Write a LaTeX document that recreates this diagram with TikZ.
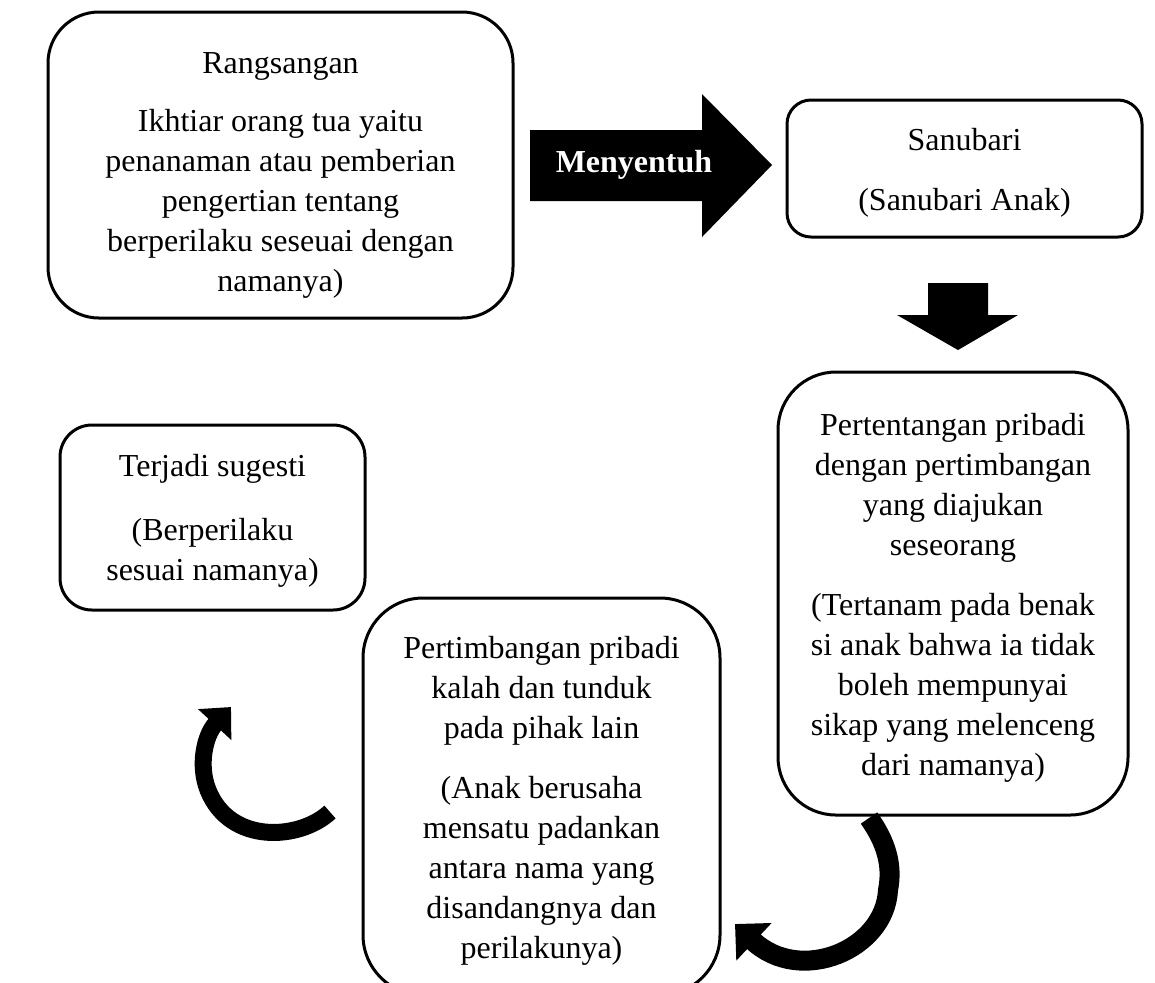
\documentclass[tikz,border=0pt]{standalone}
\usepackage{fontspec}
\setmainfont{Liberation Serif}
\usepackage{tikz}
\usetikzlibrary{arrows.meta, positioning}
\tikzset{
	boxnode/.style={
			draw=black,
			line width=1.5pt,
			rounded corners=#1,
			align=center,
			inner sep=0pt,
			font=\fontsize{16pt}{20pt}\selectfont
		},
	blockarrow/.style={
			fill=black,
			draw=none
		},
	arrowtext/.style={
			text=white,
			inner sep=0pt,
			font=\fontsize{16pt}{20pt}\selectfont\bfseries
		},
	curvedarrow/.style={
			draw=black,
			line width=#1,
			line cap=butt
		}
}

\begin{document}
\begin{tikzpicture}[x=0.5pt, y=-0.5pt]
\useasboundingbox (0,0) rectangle (1155,982);
\clip (0,0) rectangle (1155,982);

\node[boxnode=25.5pt, minimum width=232.5pt, minimum height=153pt] (n1) at (280.5,165) {\rule{0pt}{21pt}Rangsangan\\[9pt]
Ikhtiar orang tua yaitu\\ penanaman atau pemberian\\ pengertian tentang\\ berperilaku seseuai dengan\\ namanya)};
\node[boxnode=12pt, minimum width=177.5pt, minimum height=68.5pt] (n2) at (964.5,168.5) {\rule{0pt}{15pt}Sanubari\\[10pt] (Sanubari Anak)};
\node[boxnode=29pt, minimum width=175pt, minimum height=221.5pt] (n3) at (953,593.5) {\rule{0pt}{15pt}Pertentangan pribadi\\ dengan pertimbangan\\ yang diajukan\\ seseorang\\[10pt]
(Tertanam pada benak\\ si anak bahwa ia tidak\\ boleh mempunyai\\ sikap yang melenceng\\ dari namanya)};
\node[boxnode=30pt, minimum width=178.5pt, minimum height=198.5pt] (n4) at (541.5,796.5) {\rule{0pt}{15pt}Pertimbangan pribadi\\ kalah dan tunduk\\ pada pihak lain\\[10pt]
(Anak berusaha\\ mensatu padankan\\ antara nama yang\\ disandangnya dan\\ perilakunya)};
\node[boxnode=16pt, minimum width=152.5pt, minimum height=92.5pt] (n5) at (212.5,517.5) {\rule{0pt}{14pt}Terjadi sugesti\\[12pt] (Berperilaku\\ sesuai namanya)};

% block arrows
\fill[blockarrow] (530,130) -- (702,130) -- (702,94) -- (772,165) -- (702,237) -- (702,201) -- (530,201) -- cycle;
\node[arrowtext] (touch) at (634,165) {Menyentuh};
\fill[blockarrow] (928,283) -- (988,283) -- (988,315) -- (1018,315) -- (958,350) -- (897,315) -- (928,315) -- cycle;

% curved arrows
\coordinate (a1) at (869,818);
\coordinate (b1) at (735,924);
\coordinate (a2) at (330,812);
\coordinate (b2) at (231,707);
\draw[curvedarrow=10pt, -{Triangle[width=25pt, length=13pt]}] (a1) .. controls (886,842) and (893,865) .. (888,890) .. controls (885,950) and (800,985) .. (b1);
\draw[curvedarrow=8.5pt, -{Triangle[width=22pt, length=12pt]}] (a2) .. controls (300,840) and (230,845) .. (208,790) .. controls (198,765) and (205,735) .. (b2);

\end{tikzpicture}
\end{document}
